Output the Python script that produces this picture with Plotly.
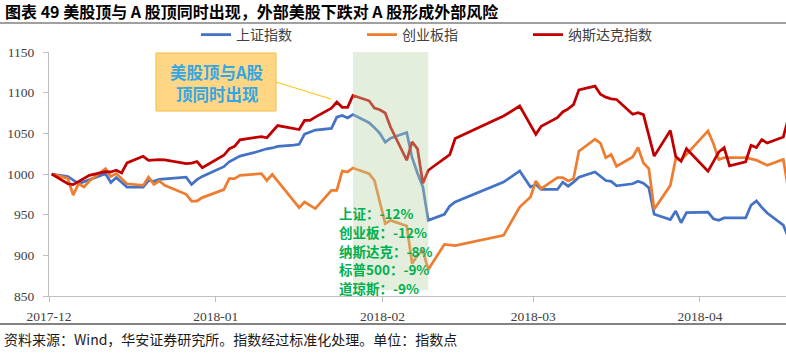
import plotly.graph_objects as go
import pandas as pd

# ---------------- data ----------------
sh_dates = ["2017-12-01","2017-12-04","2017-12-06","2017-12-08","2017-12-11","2017-12-12","2017-12-13",
            "2017-12-15","2017-12-18","2017-12-19","2017-12-20","2017-12-21","2017-12-22","2017-12-26",
            "2017-12-27","2017-12-28","2017-12-29","2018-01-02","2018-01-03","2018-01-04","2018-01-05",
            "2018-01-08","2018-01-09","2018-01-10","2018-01-11","2018-01-12","2018-01-15","2018-01-16",
            "2018-01-17","2018-01-18","2018-01-19","2018-01-22","2018-01-23","2018-01-24","2018-01-25",
            "2018-01-26","2018-01-29","2018-01-30","2018-01-31","2018-02-01","2018-02-02","2018-02-05",
            "2018-02-06","2018-02-07","2018-02-08","2018-02-09","2018-02-12","2018-02-13","2018-02-14",
            "2018-02-23","2018-02-26","2018-02-28","2018-03-01","2018-03-02","2018-03-05","2018-03-06",
            "2018-03-07","2018-03-08","2018-03-09","2018-03-12","2018-03-13","2018-03-14","2018-03-15",
            "2018-03-16","2018-03-19","2018-03-20","2018-03-21","2018-03-22","2018-03-23","2018-03-26",
            "2018-03-27","2018-03-28","2018-03-29","2018-04-02","2018-04-03","2018-04-04","2018-04-05",
            "2018-04-09","2018-04-10","2018-04-11","2018-04-12","2018-04-13","2018-04-16","2018-04-17"]
sh_values = [1000,997,988,993,1000.5,989.5,995.6,
             984,984,992,991,993.5,994,996,
             987,993,997,1009,1015,1019,1022,
             1027,1029,1031,1032,1034,1035.5,1036.5,
             1049,1052,1054,1056,1070,1072,1069,
             1073,1063,1057,1050,1039,1044,1051,
             1020,1001,984,943,950.5,960.6,965.6,
             990,1003.7,984,987,981,981,990,
             985,990,996,1002.5,997,992,991,
             985.5,988,991,988.7,983,950.5,944,
             954.5,940,952.5,953,945,943,946,
             946,961.5,967,959,952,937,921]

cyb_dates = ["2017-12-01","2017-12-04","2017-12-05","2017-12-06","2017-12-07","2017-12-08","2017-12-11",
             "2017-12-12","2017-12-13","2017-12-15","2017-12-18","2017-12-19","2017-12-20","2017-12-21",
             "2017-12-22","2017-12-26","2017-12-27","2017-12-28","2017-12-29","2018-01-02","2018-01-03",
             "2018-01-04","2018-01-05","2018-01-09","2018-01-10","2018-01-11","2018-01-16","2018-01-17",
             "2018-01-19","2018-01-22","2018-01-23","2018-01-24","2018-01-25","2018-01-26","2018-01-29",
             "2018-01-30","2018-02-01","2018-02-02","2018-02-05","2018-02-06","2018-02-07","2018-02-08",
             "2018-02-09","2018-02-12","2018-02-14","2018-02-23","2018-02-26","2018-02-28","2018-03-01",
             "2018-03-02","2018-03-05","2018-03-06","2018-03-07","2018-03-08","2018-03-09","2018-03-12",
             "2018-03-13","2018-03-14","2018-03-15","2018-03-16","2018-03-19","2018-03-20","2018-03-21",
             "2018-03-22","2018-03-23","2018-03-26","2018-03-27","2018-03-28","2018-04-02","2018-04-03",
             "2018-04-04","2018-04-05","2018-04-09","2018-04-11","2018-04-13","2018-04-16","2018-04-17"]
cyb_values = [1000,994.5,974,988,984,991.4,1006.6,
              997,1000.5,988,986,996,987.3,991.4,
              986,975,966.8,966.8,971,980.8,994.3,
              994.3,998.4,1000.5,992,999.6,958.7,965.6,
              957.5,980,980,1003.7,1002.5,1007.4,1000.5,
              992,939,943,936,890,900,906,
              882.5,913.5,912,924.6,959.4,971.7,991.4,
              982,995.6,995.6,991.4,994.3,1028,1042.7,
              1038,1020,1024,1009.5,1021,1032.6,1013.6,
              1006.6,956.6,986,1018.9,1017,1053,1037.4,
              1017.7,1020,1020,1017,1010.7,1018,978]

ndq_dates = ["2017-12-01","2017-12-04","2017-12-05","2017-12-06","2017-12-07","2017-12-08","2017-12-11",
             "2017-12-12","2017-12-13","2017-12-14","2017-12-15","2017-12-18","2017-12-19","2017-12-20",
             "2017-12-21","2017-12-22","2017-12-26","2017-12-27","2017-12-28","2017-12-29","2018-01-02",
             "2018-01-03","2018-01-04","2018-01-05","2018-01-08","2018-01-09","2018-01-10","2018-01-11",
             "2018-01-12","2018-01-16","2018-01-17","2018-01-18","2018-01-19","2018-01-22","2018-01-23",
             "2018-01-24","2018-01-25","2018-01-26","2018-01-29","2018-01-30","2018-01-31","2018-02-01",
             "2018-02-02","2018-02-05","2018-02-06","2018-02-07","2018-02-08","2018-02-09","2018-02-12",
             "2018-02-13","2018-02-14","2018-02-23","2018-02-26","2018-02-27","2018-02-28","2018-03-01",
             "2018-03-02","2018-03-05","2018-03-06","2018-03-07","2018-03-08","2018-03-09","2018-03-12",
             "2018-03-13","2018-03-14","2018-03-15","2018-03-16","2018-03-19","2018-03-20","2018-03-21",
             "2018-03-23","2018-03-26","2018-03-27","2018-03-28","2018-03-29","2018-04-02","2018-04-04",
             "2018-04-05","2018-04-06","2018-04-09","2018-04-10","2018-04-11","2018-04-12","2018-04-13",
             "2018-04-16","2018-04-17"]
ndq_values = [1000,988,987,991,995,998.4,1003,
              1002.5,1004.6,1001.3,1013.6,1021.8,1016.9,1017.5,
              1017.7,1017.3,1012.8,1013.5,1015.2,1007.8,1023,
              1031,1034,1042,1045,1046,1044.6,1052,
              1059.6,1054.7,1065.8,1065.8,1070,1081,1088.4,
              1082,1082,1096.6,1090,1081,1079,1075,
              1057.5,1016.9,1039.4,1031,988.5,1004.6,1019,
              1023.8,1043.5,1071.3,1083.6,1072,1062,1048.8,
              1058.6,1069.3,1076.3,1080,1085.3,1103.4,1108,
              1098,1094.5,1092.4,1091.6,1073.5,1075.5,1073,
              1022,1053.5,1021.6,1015.6,1031,1003.3,1027,
              1032.5,1010,1015,1035.3,1032.5,1042.3,1038,
              1045.6,1070]

series_names = ["上证指数", "创业板指", "纳斯达克指数"]
series_colors = ["#4472C4", "#ED7D31", "#C00000"]

month_starts = ["2017-12-01", "2018-01-01", "2018-02-01", "2018-03-01", "2018-04-01"]
month_labels = ["2017-12", "2018-01", "2018-02", "2018-03", "2018-04"]
y_ticks = [850, 900, 950, 1000, 1050, 1100, 1150]

shade_start, shade_end = "2018-01-26", "2018-02-09"
drop_labels = ["上证：-12%", "创业板：-12%", "纳斯达克：-8%", "标普500：-9%", "道琼斯：-9%"]

title_text = "图表 49 美股顶与 A 股顶同时出现，外部美股下跌对 A 股形成外部风险"
source_text = "资料来源：Wind，华安证券研究所。指数经过标准化处理。单位：指数点"
callout_lines = ["美股顶与A股", "顶同时出现"]

# ---------------- figure ----------------
W, H = 786, 361
ML, MR, MT, MB = 49, 0, 52, 65
PW, PH = W - ML - MR, H - MT - MB

def px(x):
    return (x - ML) / PW

def py(y):
    return (H - MB - y) / PH

half_day = pd.Timedelta(hours=12)
tickvals = [pd.Timestamp(m) - half_day for m in month_starts]
x_start = pd.Timestamp("2017-12-01") - half_day
x_end = x_start + pd.Timedelta(days=137)

fig = go.Figure()
for name, color, d, v in zip(series_names, series_colors,
                             [sh_dates, cyb_dates, ndq_dates],
                             [sh_values, cyb_values, ndq_values]):
    fig.add_trace(go.Scatter(x=pd.to_datetime(d), y=v, mode="lines", name=name,
                             line=dict(color=color, width=2.75)))

CJK = "Noto Sans CJK SC"
SERIF = "Liberation Serif"

fig.update_layout(
    width=W, height=H,
    margin=dict(l=ML, r=MR, t=MT, b=MB, pad=0),
    paper_bgcolor="white", plot_bgcolor="white",
    showlegend=True,
    legend=dict(orientation="h", x=px(196), xanchor="left", y=py(35), yanchor="middle",
                entrywidth=121, entrywidthmode="pixels",
                font=dict(family=CJK, size=14, color="#404040"),
                bgcolor="rgba(0,0,0,0)", borderwidth=0, itemwidth=30, tracegroupgap=0),
    xaxis=dict(type="date", range=[x_start, x_end], tickmode="array",
               tickvals=tickvals, ticktext=month_labels,
               showline=True, linecolor="#BFBFBF", linewidth=1,
               ticks="outside", ticklen=5, tickcolor="#BFBFBF",
               showgrid=False, zeroline=False, ticklabelstandoff=3,
               tickfont=dict(family=SERIF, size=13.5, color="#404040")),
    yaxis=dict(range=[850, 1150], tickmode="array", tickvals=y_ticks,
               showline=True, linecolor="#BFBFBF", linewidth=1,
               ticks="outside", ticklen=5, tickcolor="#BFBFBF",
               showgrid=False, zeroline=False, ticklabelstandoff=6,
               tickfont=dict(family=SERIF, size=13.5, color="#404040")),
)

shapes = [
    # shaded window (drawn above lines, semi-transparent)
    dict(type="rect", xref="x", yref="y", x0=shade_start, x1=shade_end, y0=857, y1=1150,
         fillcolor="rgba(184,210,163,0.38)", line=dict(width=0), layer="above"),
    # title rule
    dict(type="line", xref="paper", yref="paper", x0=px(0), x1=px(W), y0=py(23), y1=py(23),
         line=dict(color="#808080", width=1.5)),
    # footer rule
    dict(type="line", xref="paper", yref="paper", x0=px(0), x1=px(W), y0=py(324), y1=py(324),
         line=dict(color="#595959", width=1.5)),
    # callout box
    dict(type="rect", xref="paper", yref="paper", x0=px(156), x1=px(276), y0=py(111), y1=py(53),
         fillcolor="#FFD684", line=dict(color="#F8BC45", width=1), layer="above"),
    # callout connector
    dict(type="line", xref="paper", yref="paper", x0=px(276), x1=px(331), y0=py(82), y1=py(99),
         line=dict(color="#FFC000", width=1), layer="above"),
]
fig.update_layout(shapes=shapes)

ann = []
ann.append(dict(text="<b>" + title_text + "</b>", xref="paper", yref="paper",
                x=px(3), y=py(11), xanchor="left", yanchor="middle", showarrow=False,
                font=dict(family=CJK, size=16, color="#000000")))
ann.append(dict(text=source_text, xref="paper", yref="paper",
                x=px(2), y=py(339), xanchor="left", yanchor="middle", showarrow=False,
                font=dict(family=CJK, size=14, color="#1a1a1a")))
for line_text, yy in zip(callout_lines, [71.7, 94.3]):
    ann.append(dict(text="<b>" + line_text + "</b>", xref="paper", yref="paper",
                    x=px(217), y=py(yy), xanchor="center", yanchor="middle", showarrow=False,
                    font=dict(family=CJK, size=16.5, color="#35A6E3")))
for t, yy in zip(drop_labels, [213.3, 231.7, 250.7, 269, 288.3]):
    ann.append(dict(text="<b>" + t + "</b>", xref="paper", yref="paper",
                    x=px(337), y=py(yy), xanchor="left", yanchor="middle", showarrow=False,
                    font=dict(family=CJK, size=13.5, color="#00B050")))
fig.update_layout(annotations=ann)

fig.write_html("out.html", config={"displayModeBar": False},
               post_script="document.body.style.margin='0px';document.body.style.padding='0px';")
